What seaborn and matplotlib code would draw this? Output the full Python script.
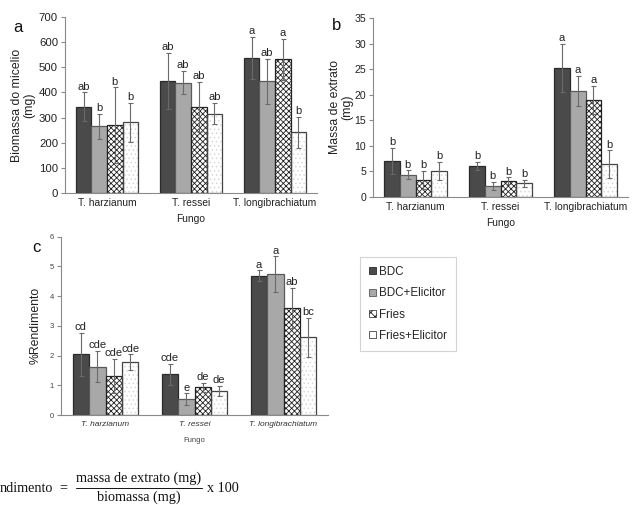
import numpy as np
import pandas as pd
import seaborn as sns
import matplotlib
matplotlib.use("Agg")
import matplotlib.pyplot as plt
from matplotlib.patches import Patch, Rectangle
from matplotlib.lines import Line2D

# ---------------- data ----------------
fungos = ["T. harzianum", "T. ressei", "T. longibrachiatum"]
tratamentos = ["BDC", "BDC+Elicitor", "Fries", "Fries+Elicitor"]

# rows = tratamentos, columns = fungos
biomassa = [[343, 446, 537], [266, 439, 445], [269, 343, 533], [281, 316, 242]]
biomassa_err = [[57, 111, 85], [50, 47, 90], [151, 100, 82], [77, 42, 62]]
biomassa_let = [["ab", "ab", "a"], ["b", "ab", "ab"], ["b", "ab", "a"], ["b", "ab", "b"]]

extrato = [[7.0, 6.0, 25.3], [4.3, 2.1, 20.7], [3.3, 3.1, 19.0], [5.1, 2.6, 6.4]]
extrato_err = [[2.6, 0.8, 4.7], [0.9, 0.8, 3.0], [1.8, 0.7, 2.8], [1.8, 0.7, 2.7]]
extrato_let = [["b", "b", "a"], ["b", "b", "a"], ["b", "b", "a"], ["b", "b", "b"]]

rendimento = [[2.04, 1.37, 4.69], [1.63, 0.53, 4.74], [1.32, 0.93, 3.61], [1.77, 0.82, 2.61]]
rendimento_err = [[0.73, 0.35, 0.18], [0.52, 0.20, 0.60], [0.58, 0.16, 0.68], [0.27, 0.17, 0.67]]
rendimento_let = [["cd", "cde", "a"], ["cde", "e", "a"], ["cde", "de", "ab"], ["cde", "de", "bc"]]

# ---------------- style ----------------
sns.set_style("white")
plt.rcParams["font.family"] = ["Liberation Sans", "DejaVu Sans"]
plt.rcParams["hatch.linewidth"] = 0.6

styles = {
    "BDC": dict(face="#4a4a4a", edge="#2a2a2a", hatch=None, hatchcol=None),
    "BDC+Elicitor": dict(face="#a8a8a8", edge="#5a5a5a", hatch=None, hatchcol=None),
    "Fries": dict(face="white", edge="#222222", hatch="xxxxxx", hatchcol="#222222"),
    "Fries+Elicitor": dict(face="white", edge="#444444", hatch="....", hatchcol="#d8d8d8"),
}

fig = plt.figure(figsize=(6.33, 5.05), dpi=100)


def make_df(vals):
    rows = []
    for ti, t in enumerate(tratamentos):
        for fi, f in enumerate(fungos):
            rows.append({"Fungo": f, "Tratamento": t, "valor": vals[ti][fi]})
    return pd.DataFrame(rows)


def panel(rect, vals, errs, lets, ylim, yticks, ylabel, letter, letter_xy,
          italic=False, small=False, ytick_size=8.0, ylabelpad=4, xlabelpad=4):
    ax = fig.add_axes(rect)
    df = make_df(vals)
    sns.barplot(data=df, x="Fungo", y="valor", hue="Tratamento",
                order=fungos, hue_order=tratamentos, errorbar=None,
                width=0.74, gap=0, ax=ax, legend=False)
    for ti, (t, cont) in enumerate(zip(tratamentos, ax.containers)):
        st = styles[t]
        for fi, bar in enumerate(cont):
            if st["hatch"]:
                bar.set_facecolor(st["face"])
                bar.set_edgecolor(st["hatchcol"])
                bar.set_hatch(st["hatch"])
                bar.set_linewidth(0)
                ax.add_patch(Rectangle(bar.get_xy(), bar.get_width(), bar.get_height(),
                                       fill=False, edgecolor=st["edge"], lw=0.9,
                                       zorder=bar.get_zorder() + 0.1))
            else:
                bar.set_facecolor(st["face"])
                bar.set_edgecolor(st["edge"])
                bar.set_linewidth(0.9)
            xc = bar.get_x() + bar.get_width() / 2
            h = bar.get_height()
            e = errs[ti][fi]
            ax.errorbar(xc, h, yerr=e, fmt="none", ecolor="#6a6a6a",
                        elinewidth=0.8, capsize=1.8, capthick=0.8, zorder=5)
            ax.annotate(lets[ti][fi], (xc, h + e), xytext=(0, 0.5),
                        textcoords="offset points", ha="center", va="bottom",
                        fontsize=8.0, color="#222222", zorder=6)
    ax.set_ylim(*ylim)
    ax.set_yticks(yticks)
    ax.set_xlim(-0.5, 2.5)
    for s in ["top", "right"]:
        ax.spines[s].set_visible(False)
    for s in ["left", "bottom"]:
        ax.spines[s].set_color("#8a8a8a")
        ax.spines[s].set_linewidth(0.8)
    ax.tick_params(axis="x", which="major", length=0, pad=4,
                   labelsize=6.0 if small else 7.4,
                   labelcolor="#333333" if small else "#222222")
    ax.set_xticks([0.5, 1.5], minor=True)
    ax.tick_params(axis="x", which="minor", length=3, color="#8a8a8a", width=0.8)
    ax.tick_params(axis="y", length=3, color="#8a8a8a", width=0.8, pad=2,
                   labelsize=ytick_size,
                   labelcolor="#444444" if small else "#222222", left=True)
    if italic:
        for lbl in ax.get_xticklabels():
            lbl.set_fontstyle("italic")
    ax.set_xlabel("Fungo", fontsize=5.5 if small else 7.4,
                  color="#444444" if small else "#222222", labelpad=xlabelpad)
    ax.set_ylabel(ylabel, fontsize=8.8, color="#222222",
                  labelpad=ylabelpad, linespacing=1.0)
    fig.text(letter_xy[0], letter_xy[1], letter, fontsize=12, ha="center",
             va="center", color="#111111")
    return ax


panel([65 / 633, 1 - 192.7 / 505, 252 / 633, 175.4 / 505], biomassa, biomassa_err,
      biomassa_let, (0, 700), range(0, 701, 100), "Biomassa do micelio\n(mg)", "a",
      (18 / 633, 1 - 27 / 505), ytick_size=8.2, ylabelpad=3, xlabelpad=4)
panel([373 / 633, 1 - 196.7 / 505, 255 / 633, 178.4 / 505], extrato, extrato_err,
      extrato_let, (0, 35), range(0, 36, 5), "Massa de extrato\n(mg)", "b",
      (337 / 633, 1 - 25 / 505), ytick_size=7.6, ylabelpad=1, xlabelpad=4)
panel([61 / 633, 1 - 415 / 505, 267 / 633, 178.3 / 505], rendimento, rendimento_err,
      rendimento_let, (0, 6), range(0, 7, 1), "%Rendimento", "c",
      (36 / 633, 1 - 248 / 505), italic=True, small=True, ytick_size=5.5,
      ylabelpad=6, xlabelpad=7)

# legend
handles = []
for t in tratamentos:
    st = styles[t]
    if t == "Fries":
        handles.append(Patch(facecolor="white", edgecolor="#222222", hatch="xxxx",
                             lw=0.5, label=t))
    elif t == "Fries+Elicitor":
        handles.append(Patch(facecolor="white", edgecolor="#444444", lw=0.6, label=t))
    else:
        handles.append(Patch(facecolor=st["face"], edgecolor=st["edge"], lw=0.6, label=t))
leg = fig.legend(handles=handles, loc="upper left",
                 bbox_to_anchor=(360 / 633, 1 - 256.7 / 505),
                 frameon=True, fancybox=False, edgecolor="#c8c8c8",
                 fontsize=8.4, handlelength=0.55, handleheight=0.55,
                 handletextpad=0.25, labelspacing=0.8, borderpad=0.8,
                 borderaxespad=0)
leg.get_frame().set_linewidth(0.8)

# formula
serif = ["Liberation Serif", "DejaVu Serif"]
fs = 10.2
fig.text(0 / 633, 1 - 488 / 505, "ndimento", family=serif, fontsize=fs,
         ha="left", va="center", color="#111111")
fig.text(63 / 633, 1 - 488 / 505, "=", family=serif, fontsize=fs,
         ha="center", va="center", color="#111111")
fig.text(139 / 633, 1 - 478 / 505, "massa de extrato (mg)", family=serif, fontsize=fs,
         ha="center", va="center", color="#111111")
fig.text(139 / 633, 1 - 497 / 505, "biomassa (mg)", family=serif, fontsize=fs,
         ha="center", va="center", color="#111111")
fig.add_artist(Line2D([76 / 633, 202 / 633], [1 - 487.5 / 505, 1 - 487.5 / 505],
                      color="#111111", lw=0.7, transform=fig.transFigure))
fig.text(207 / 633, 1 - 488 / 505, "x 100", family=serif, fontsize=fs,
         ha="left", va="center", color="#111111")

fig.savefig("out.png", dpi=100)
